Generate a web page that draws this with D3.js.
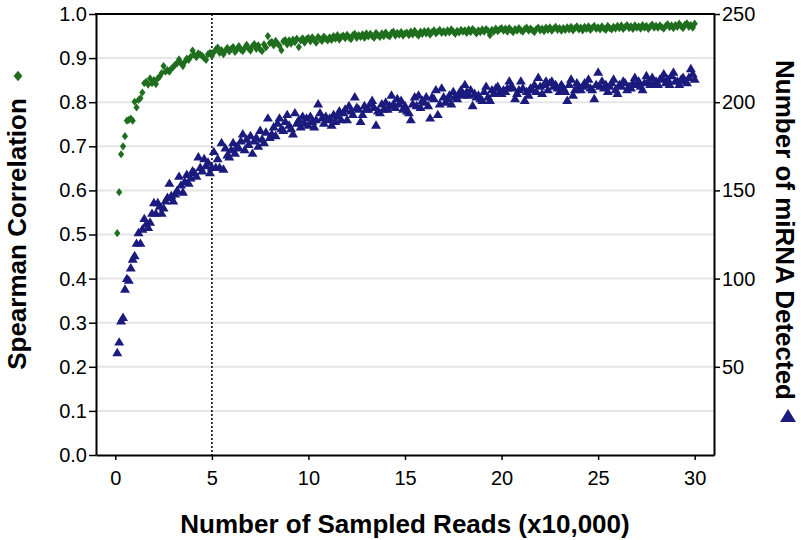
<!DOCTYPE html>
<html><head><meta charset="utf-8">
<script src="https://cdn.jsdelivr.net/npm/d3@7"></script>
<style>
body{margin:0;background:#fff;}
svg{display:block;font-family:"Liberation Sans",Arial,Helvetica,sans-serif;}
</style></head><body>
<svg id="chart" width="801" height="540"></svg>
<script>
// sampled reads (x10,000): 0.1, 0.2, ... 30.0
const readsStart = 0.1;
const readsStep = 0.1;

const spearman = [
0.503,0.596,0.682,0.700,0.723,0.758,0.760,0.763,0.758,0.801,
0.788,0.805,0.809,0.822,0.843,0.846,0.840,0.854,0.843,0.850,
0.841,0.854,0.858,0.866,0.882,0.869,0.873,0.869,0.876,0.880,
0.885,0.888,0.897,0.888,0.882,0.892,0.899,0.896,0.903,0.917,
0.907,0.902,0.911,0.908,0.905,0.900,0.896,0.909,0.912,0.905,
0.913,0.919,0.924,0.912,0.918,0.909,0.917,0.923,0.915,0.921,
0.925,0.914,0.920,0.927,0.919,0.916,0.923,0.930,0.922,0.917,
0.927,0.932,0.921,0.929,0.920,0.916,0.931,0.924,0.950,0.934,
0.937,0.929,0.939,0.933,0.928,0.918,0.938,0.941,0.931,0.940,
0.933,0.942,0.936,0.944,0.925,0.940,0.945,0.935,0.943,0.946,
0.938,0.947,0.941,0.935,0.948,0.943,0.939,0.949,0.944,0.940,
0.947,0.941,0.950,0.944,0.952,0.942,0.948,0.951,0.945,0.953,
0.947,0.943,0.952,0.955,0.946,0.952,0.948,0.954,0.946,0.956,
0.949,0.955,0.950,0.946,0.957,0.952,0.948,0.956,0.950,0.958,
0.952,0.949,0.957,0.960,0.951,0.957,0.953,0.959,0.951,0.956,
0.958,0.952,0.960,0.954,0.962,0.955,0.951,0.960,0.955,0.961,
0.956,0.962,0.953,0.959,0.963,0.956,0.960,0.964,0.957,0.961,
0.957,0.963,0.958,0.965,0.960,0.955,0.962,0.958,0.964,0.960,
0.963,0.957,0.965,0.959,0.966,0.961,0.956,0.963,0.959,0.965,
0.960,0.966,0.962,0.952,0.964,0.960,0.967,0.961,0.965,0.968,
0.962,0.967,0.960,0.968,0.963,0.959,0.966,0.962,0.968,0.963,
0.960,0.966,0.969,0.962,0.967,0.963,0.959,0.966,0.969,0.963,
0.967,0.961,0.969,0.964,0.970,0.962,0.967,0.971,0.964,0.968,
0.962,0.968,0.964,0.970,0.965,0.971,0.963,0.968,0.972,0.965,
0.969,0.963,0.971,0.966,0.972,0.964,0.969,0.973,0.966,0.970,
0.965,0.972,0.967,0.964,0.973,0.968,0.965,0.971,0.967,0.973,
0.968,0.974,0.966,0.971,0.975,0.968,0.972,0.966,0.974,0.969,
0.972,0.967,0.975,0.969,0.973,0.966,0.972,0.976,0.969,0.973,
0.969,0.974,0.970,0.967,0.973,0.977,0.970,0.974,0.968,0.975,
0.971,0.978,0.972,0.968,0.976,0.979,0.971,0.975,0.969,0.978
];

const mirnaDetected = [
58,64,76,78,94,100,99,106,111,113,
120,126,120,128,134,131,129,132,137,143,
137,143,141,137,140,144,146,154,147,144,
148,150,158,153,149,155,159,154,157,161,
160,158,169,163,161,168,164,166,160,163,
172,163,168,163,177,162,174,170,169,173,
177,171,175,174,178,182,173,179,176,181,
171,178,180,175,184,179,177,183,191,180,
182,186,181,188,191,185,184,189,193,187,
185,182,194,188,190,186,192,188,191,187,
192,189,186,190,199,194,191,188,192,190,
191,187,193,189,192,195,190,194,196,190,
198,195,193,203,197,196,189,193,198,196,
196,199,201,197,187,195,194,199,196,200,
196,198,204,199,197,202,199,201,196,198,
195,194,190,199,203,198,204,197,201,200,
203,198,191,203,202,207,193,199,208,203,
200,202,204,199,206,203,202,205,207,204,
210,206,204,207,198,205,203,204,202,201,
206,209,203,201,207,205,208,209,206,205,
207,206,208,212,209,208,202,205,207,212,
208,201,206,204,208,207,210,206,214,209,
205,210,212,207,211,212,209,210,208,206,
210,208,206,201,210,213,204,207,211,209,
207,209,211,210,213,208,207,202,210,217,
209,212,208,210,206,209,211,213,207,205,
210,209,212,211,207,209,208,211,214,210,
212,209,207,211,215,212,210,214,211,212,
210,213,214,216,211,213,210,215,217,212,
212,210,213,214,212,211,214,219,216,213
];

const xTicks = [0, 5, 10, 15, 20, 25, 30];
const leftTicks = [0, 0.1, 0.2, 0.3, 0.4, 0.5, 0.6, 0.7, 0.8, 0.9, 1.0];
const rightTicks = [50, 100, 150, 200, 250];
const gridLines = [0.1, 0.2, 0.3, 0.4, 0.5, 0.6, 0.7, 0.8, 0.9];
const cutoffReads = 5;

const xTitle = "Number of Sampled Reads (x10,000)";
const yLeftTitle = "Spearman Correlation";
const yRightTitle = "Number of miRNA Detected";

const GREEN = "#1e6e1e", BLUE = "#1b1b7e";

const svg = d3.select("#chart");
const L = 96, R = 714, T = 14, B = 455;

const x = d3.scaleLinear().domain([-1, 31]).range([L, R]);
const yL = d3.scaleLinear().domain([0, 1]).range([B, T]);
const yR = d3.scaleLinear().domain([0, 250]).range([B, T]);

const readsAt = i => +(readsStart + i * readsStep).toFixed(1);

// grid
svg.append("g").selectAll("line").data(gridLines).join("line")
  .attr("x1", L).attr("x2", R)
  .attr("y1", d => yL(d)).attr("y2", d => yL(d))
  .attr("stroke", "#e6e6e6").attr("stroke-width", 2);

// dotted cutoff line
svg.append("line")
  .attr("x1", x(cutoffReads)).attr("x2", x(cutoffReads))
  .attr("y1", T).attr("y2", B)
  .attr("stroke", "#000").attr("stroke-width", 1.5)
  .attr("stroke-dasharray", "2,2");

// markers
const diamondType = { draw(ctx, size) { const w = 3.1, h = 4.1;
  ctx.moveTo(0, -h); ctx.lineTo(w, 0); ctx.lineTo(0, h); ctx.lineTo(-w, 0); ctx.closePath(); } };
const triType = { draw(ctx, size) { const s = size;
  ctx.moveTo(0, -4.9 * s); ctx.lineTo(5.0 * s, 3.5 * s); ctx.lineTo(-5.0 * s, 3.5 * s); ctx.closePath(); } };

svg.append("g").selectAll("path").data(mirnaDetected).join("path")
  .attr("transform", (d, i) => `translate(${x(readsAt(i))},${yR(d)})`)
  .attr("d", d3.symbol().type(triType).size(1)())
  .attr("fill", BLUE);

svg.append("g").selectAll("path").data(spearman).join("path")
  .attr("transform", (d, i) => `translate(${x(readsAt(i))},${yL(d)})`)
  .attr("d", d3.symbol().type(diamondType).size(1)())
  .attr("fill", GREEN);

// axes
function styleAxis(g, fs) {
  g.select(".domain").attr("stroke", "#000").attr("stroke-width", 2);
  g.selectAll(".tick line").attr("stroke", "#000").attr("stroke-width", 1.5);
  g.selectAll(".tick text").attr("font-size", fs).attr("fill", "#000")
    .attr("font-family", '"Liberation Sans",Arial,sans-serif');
}
svg.append("g").attr("transform", `translate(0,${B})`)
  .call(d3.axisBottom(x).tickValues(xTicks).tickSize(5).tickSizeOuter(0).tickPadding(11))
  .call(g => styleAxis(g, 20));
svg.append("g").attr("transform", `translate(${L},0)`)
  .call(d3.axisLeft(yL).tickValues(leftTicks).tickFormat(d3.format(".1f")).tickSize(7).tickSizeOuter(0).tickPadding(2))
  .call(g => styleAxis(g, 20));
svg.append("g").attr("transform", `translate(${R},0)`)
  .call(d3.axisRight(yR).tickValues(rightTicks).tickSize(6).tickSizeOuter(0).tickPadding(2))
  .call(g => styleAxis(g, 20));
// top frame
svg.append("line").attr("x1", L - 1).attr("x2", R + 1).attr("y1", T).attr("y2", T)
  .attr("stroke", "#000").attr("stroke-width", 2);

// titles
svg.append("text").attr("x", (L + R) / 2).attr("y", 533)
  .attr("text-anchor", "middle").attr("font-weight", "bold").attr("font-size", 26)
  .text(xTitle);

svg.append("text").attr("transform", "translate(26,234) rotate(-90)")
  .attr("text-anchor", "middle").attr("font-weight", "bold").attr("font-size", 26)
  .text(yLeftTitle);
svg.append("path").attr("transform", "translate(18,76)")
  .attr("d", "M0,-5.2L4.4,0L0,5.2L-4.4,0Z").attr("fill", GREEN);

svg.append("text").attr("transform", "translate(776,230) rotate(90)")
  .attr("text-anchor", "middle").attr("font-weight", "bold").attr("font-size", 26)
  .text(yRightTitle);
svg.append("path").attr("transform", "translate(788,416)")
  .attr("d", "M0,-7L8,6L-8,6Z").attr("fill", BLUE);
</script>
</body></html>
